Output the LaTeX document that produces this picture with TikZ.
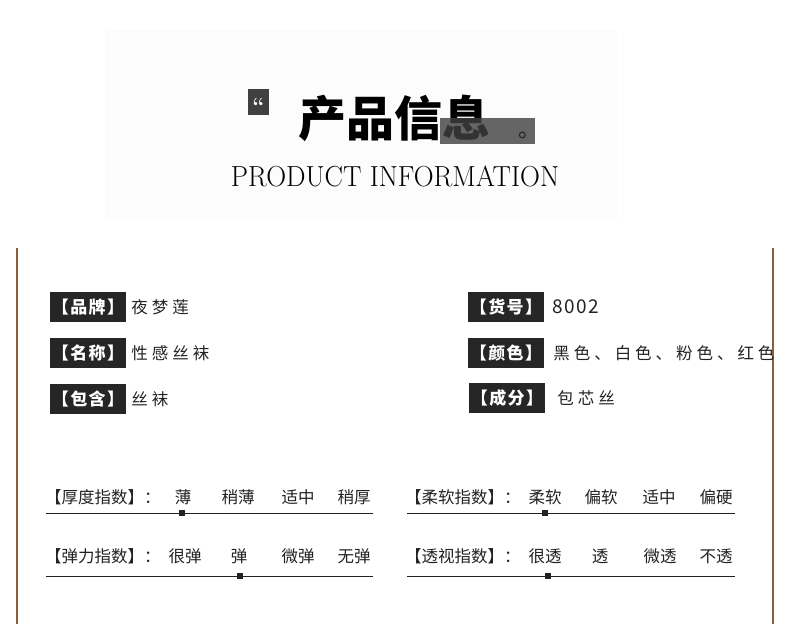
\documentclass[tikz,border=0pt]{standalone}
\usepackage{fontspec}
\newfontfamily\cjk{Noto Sans CJK SC}
\newfontfamily\cjkwide[LetterSpace=24]{Noto Sans CJK SC}
\newfontfamily\cjktag[LetterSpace=8]{Noto Sans CJK SC}
\usetikzlibrary{positioning}
\definecolor{walnut}{RGB}{139, 94, 60}
\definecolor{charcoal}{RGB}{38, 38, 38}
\definecolor{ink}{RGB}{34, 34, 34}
\definecolor{smoke}{RGB}{64, 64, 64}
\definecolor{panel}{RGB}{252, 252, 252}

\begin{document}
\begin{tikzpicture}[x=1pt, y=-1pt,
    tag/.style={fill=charcoal, text=white, font=\cjktag\bfseries\fontsize{17}{17}\selectfont,
                minimum width=76pt, minimum height=30pt, inner sep=0pt},
    value/.style={anchor=west, text=ink, font=\cjkwide\fontsize{16.5}{16.5}\selectfont, inner sep=0pt},
    scalename/.style={anchor=west, text=ink, font=\cjk\fontsize{16.5}{16.5}\selectfont, inner sep=0pt},
    option/.style={text=ink, font=\cjk\fontsize{16.5}{16.5}\selectfont, inner sep=0pt},
    track/.style={draw=ink, line width=0.9pt},
    knob/.style={fill=ink, minimum size=6pt, inner sep=0pt}]
            % Frame to ensure alignment:
            \useasboundingbox[fill=white]                              (  0,   0) rectangle (790, 624);
            \fill[panel]                                               (105,  30) rectangle (617, 220);
            \draw[walnut, line width=1.2pt]                            ( 17, 248) -- ( 17, 624);
            \draw[walnut, line width=1.2pt]                            (773, 248) -- (773, 624);

            % Heading
            \node[fill=smoke, minimum width=21pt, minimum height=26pt, inner sep=0pt] (quote) at (258.5, 102) {};
            \node[text=white, font=\bfseries\fontsize{22}{22}\selectfont, inner sep=0pt] (quotemark) at (258.5, 106) {``};
            \node[font=\cjk\bfseries\fontsize{48}{48}\selectfont, inner sep=0pt] (title) at (394, 118) {产品信息};
            \fill[smoke, opacity=0.8]                                  (440, 118) rectangle (535, 144);
            \node[text=ink, font=\cjk\fontsize{22}{22}\selectfont, inner sep=0pt] (stop) at (529, 135) {。};
            \node[font=\fontsize{29}{29}\selectfont, xscale=0.95, inner sep=0pt] (subtitle) at (395, 176) {PRODUCT INFORMATION};

            % Left column
            \node[tag] (brand) at ( 88, 307) {【品牌】};
            \node[value, right=5pt of brand]  (brandval) {夜梦莲};
            \node[tag] (name)  at ( 88, 353) {【名称】};
            \node[value, right=5pt of name]   (nameval)  {性感丝袜};
            \node[tag] (pack)  at ( 88, 399) {【包含】};
            \node[value, right=5pt of pack]   (packval)  {丝袜};

            % Right column
            \node[tag] (item)   at (506, 307) {【货号】};
            \node[value, right=8pt of item, font=\cjktag\fontsize{19}{19}\selectfont] (itemval) {8002};
            \node[tag] (colour) at (506, 353) {【颜色】};
            \node[value, right=9pt of colour] (colourval) {黑色、白色、粉色、红色};
            \node[tag] (fabric) at (507, 398) {【成分】};
            \node[value, right=12pt of fabric] (fabricval) {包芯丝};

            % Thickness
            \node[scalename] (thick) at ( 45, 497) {【厚度指数】：};
            \foreach \x/\t [count=\i] in {183/薄, 238/稍薄, 298/适中, 354/稍厚}
                \node[option] (thick\i) at (\x, 497) {\t};
            \coordinate (thickl) at ( 46, 513);
            \coordinate (thickr) at (373, 513);
            \draw[track] (thickl) -- (thickr);
            \node[knob] (thickknob) at (182, 513) {};

            % Elasticity
            \node[scalename] (elastic) at ( 45, 556) {【弹力指数】：};
            \foreach \x/\t [count=\i] in {185/很弹, 239/弹, 298/微弹, 354/无弹}
                \node[option] (elastic\i) at (\x, 556) {\t};
            \coordinate (elasticl) at ( 46, 576);
            \coordinate (elasticr) at (373, 576);
            \draw[track] (elasticl) -- (elasticr);
            \node[knob] (elasticknob) at (240, 576) {};

            % Softness
            \node[scalename] (soft) at (405, 497) {【柔软指数】：};
            \foreach \x/\t [count=\i] in {545/柔软, 601/偏软, 659/适中, 716/偏硬}
                \node[option] (soft\i) at (\x, 497) {\t};
            \coordinate (softl) at (407, 513);
            \coordinate (softr) at (735, 513);
            \draw[track] (softl) -- (softr);
            \node[knob] (softknob) at (545, 513) {};

            % Sheerness
            \node[scalename] (sheer) at (405, 556) {【透视指数】：};
            \foreach \x/\t [count=\i] in {545/很透, 600/透, 660/微透, 716/不透}
                \node[option] (sheer\i) at (\x, 556) {\t};
            \coordinate (sheerl) at (407, 576);
            \coordinate (sheerr) at (735, 576);
            \draw[track] (sheerl) -- (sheerr);
            \node[knob] (sheerknob) at (548, 576) {};
\end{tikzpicture}
\end{document}
